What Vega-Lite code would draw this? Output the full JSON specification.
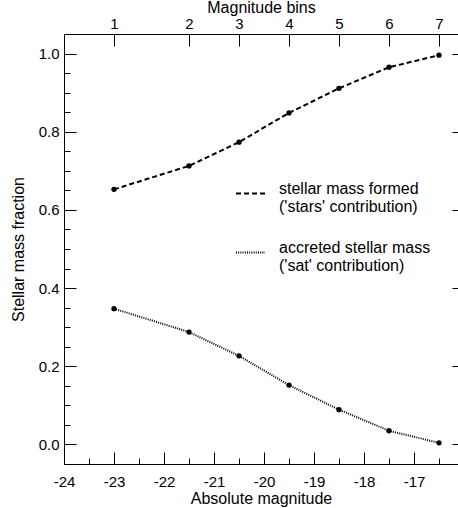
{
  "$schema": "https://vega.github.io/schema/vega-lite/v6.json",
  "autosize": {"type": "none"},
  "padding": {"left": 64, "top": 34, "right": 0, "bottom": 44},
  "width": 394,
  "height": 430,
  "config": {
    "font": "Liberation Sans",
    "view": {"stroke": null},
    "axis": {
      "grid": false,
      "domainColor": "black",
      "tickColor": "black",
      "labelColor": "black",
      "titleColor": "black",
      "labelFontSize": 15,
      "titleFontSize": 16,
      "titleFontWeight": "normal",
      "labelFlush": false,
      "labelOverlap": false,
      "labelBound": false,
      "domainWidth": 1,
      "tickWidth": 1
    },
    "legend": {"labelColor": "black"}
  },
  "data": {
    "values": [
      {"bin": 1, "mag": -23, "series": "stars", "frac": 0.653},
      {"bin": 2, "mag": -21.5, "series": "stars", "frac": 0.713},
      {"bin": 3, "mag": -20.5, "series": "stars", "frac": 0.774},
      {"bin": 4, "mag": -19.5, "series": "stars", "frac": 0.849},
      {"bin": 5, "mag": -18.5, "series": "stars", "frac": 0.912},
      {"bin": 6, "mag": -17.5, "series": "stars", "frac": 0.966},
      {"bin": 7, "mag": -16.5, "series": "stars", "frac": 0.997},
      {"bin": 1, "mag": -23, "series": "sat", "frac": 0.347},
      {"bin": 2, "mag": -21.5, "series": "sat", "frac": 0.287},
      {"bin": 3, "mag": -20.5, "series": "sat", "frac": 0.226},
      {"bin": 4, "mag": -19.5, "series": "sat", "frac": 0.151},
      {"bin": 5, "mag": -18.5, "series": "sat", "frac": 0.088},
      {"bin": 6, "mag": -17.5, "series": "sat", "frac": 0.034},
      {"bin": 7, "mag": -16.5, "series": "sat", "frac": 0.003}
    ]
  },
  "resolve": {"axis": {"x": "independent", "y": "independent"}},
  "layer": [
    {
      "mark": {"type": "line", "color": "black", "strokeWidth": 2},
      "encoding": {
        "x": {
          "field": "mag", "type": "quantitative",
          "scale": {"domain": [-24, -16.12], "nice": false, "zero": false},
          "axis": {
            "orient": "bottom",
            "values": [-24, -23, -22, -21, -20, -19, -18, -17],
            "labelExpr": "'' + datum.value",
            "tickSize": -12,
            "labelPadding": 22,
            "title": "Absolute magnitude",
            "titlePadding": 1
          }
        },
        "y": {
          "field": "frac", "type": "quantitative",
          "scale": {"domain": [-0.05128, 1.05128], "nice": false, "zero": false},
          "axis": {
            "orient": "left",
            "values": [0, 0.2, 0.4, 0.6, 0.8, 1.0],
            "format": ".1f",
            "tickSize": -12,
            "labelPadding": 17,
            "title": "Stellar mass fraction",
            "titlePadding": 12
          }
        },
        "strokeDash": {
          "field": "series", "type": "nominal",
          "scale": {"domain": ["stars", "sat"], "range": [[5, 3], [1, 1.2]]},
          "legend": {
            "orient": "none",
            "legendX": 171,
            "legendY": 144,
            "title": null,
            "symbolType": "stroke",
            "symbolSize": 841,
            "symbolStrokeWidth": 2,
            "symbolStrokeColor": "black",
            "labelFontSize": 16,
            "labelOffset": 13,
            "labelLimit": 300,
            "labelBaseline": "alphabetic",
            "rowPadding": 22,
            "labelExpr": "datum.label === 'stars' ? ['stellar mass formed', '\u00a0(\\'stars\\' contribution)'] : ['accreted stellar mass', '\u00a0(\\'sat\\' contribution)']"
          }
        }
      }
    },
    {
      "mark": {"type": "point", "filled": true, "color": "black", "size": 28, "opacity": 1},
      "encoding": {
        "x": {
          "field": "mag", "type": "quantitative",
          "scale": {"domain": [-24, -16.12], "nice": false, "zero": false},
          "axis": {
            "orient": "top",
            "values": [-23, -21.5, -20.5, -19.5, -18.5, -17.5, -16.5],
            "labelExpr": "'' + (indexof([-23, -21.5, -20.5, -19.5, -18.5, -17.5, -16.5], datum.value) + 1)",
            "tickSize": -12,
            "labelPadding": 18,
            "labelBaseline": "alphabetic",
            "title": "Magnitude bins",
            "titlePadding": 1
          }
        },
        "y": {
          "field": "frac", "type": "quantitative",
          "scale": {"domain": [-0.05128, 1.05128], "nice": false, "zero": false},
          "axis": {
            "orient": "right",
            "values": [0, 0.2, 0.4, 0.6, 0.8, 1.0],
            "tickSize": -12,
            "labels": false,
            "offset": 6,
            "title": null
          }
        }
      }
    },
    {
      "mark": {"type": "point", "opacity": 0},
      "encoding": {
        "x": {
          "field": "mag", "type": "quantitative",
          "scale": {"domain": [-24, -16.12], "nice": false, "zero": false},
          "axis": {
            "orient": "bottom",
            "values": [-23.5, -22.5, -21.5, -20.5, -19.5, -18.5, -17.5, -16.5],
            "tickSize": -6,
            "labels": false,
            "domain": false,
            "title": null
          }
        },
        "y": {
          "field": "frac", "type": "quantitative",
          "scale": {"domain": [-0.05128, 1.05128], "nice": false, "zero": false},
          "axis": {
            "orient": "left",
            "values": [0.05, 0.1, 0.15, 0.25, 0.3, 0.35, 0.45, 0.5, 0.55, 0.65, 0.7, 0.75, 0.85, 0.9, 0.95],
            "tickSize": -6,
            "labels": false,
            "domain": false,
            "title": null
          }
        }
      }
    }
  ]
}
